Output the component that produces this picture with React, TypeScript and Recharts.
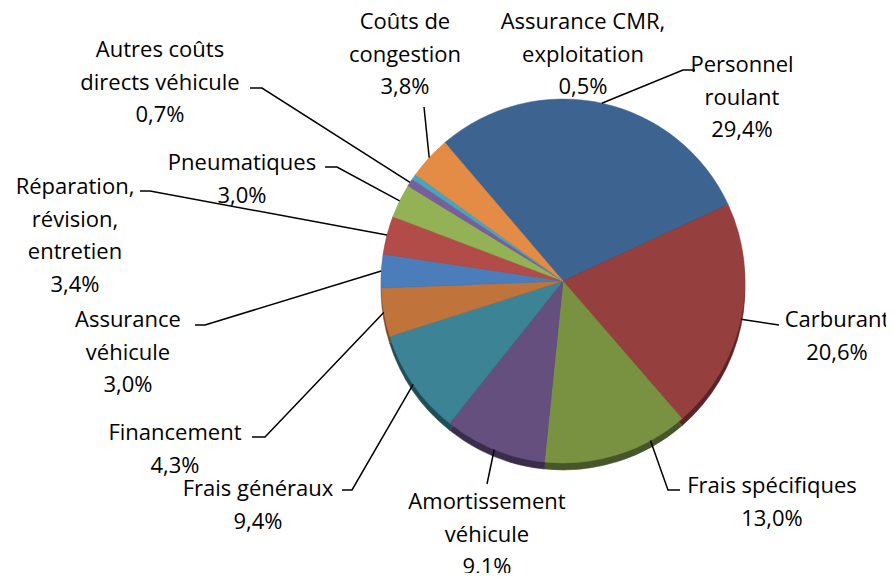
import { PieChart, Pie, Cell } from "recharts";

const categories = [
  "Personnel roulant",
  "Carburant",
  "Frais spécifiques",
  "Amortissement véhicule",
  "Frais généraux",
  "Financement",
  "Assurance véhicule",
  "Réparation, révision, entretien",
  "Pneumatiques",
  "Autres coûts directs véhicule",
  "Assurance CMR, exploitation",
  "Coûts de congestion",
];

const shares = [29.4, 20.6, 13.0, 9.1, 9.4, 4.3, 3.0, 3.4, 3.0, 0.7, 0.5, 3.8];

const percentLabels = [
  "29,4%", "20,6%", "13,0%", "9,1%", "9,4%", "4,3%",
  "3,0%", "3,4%", "3,0%", "0,7%", "0,5%", "3,8%",
];

// how each category label is broken into lines
const labelLines = [
  ["Personnel", "roulant"],
  ["Carburant"],
  ["Frais spécifiques"],
  ["Amortissement", "véhicule"],
  ["Frais généraux"],
  ["Financement"],
  ["Assurance", "véhicule"],
  ["Réparation,", "révision,", "entretien"],
  ["Pneumatiques"],
  ["Autres coûts", "directs véhicule"],
  ["Assurance CMR,", "exploitation"],
  ["Coûts de", "congestion"],
];

const data = categories.map((name, i) => ({ name, value: shares[i] }));

const topColors = [
  "#3d6491", "#953f3e", "#789242", "#654f7f", "#3b8395", "#c0733a",
  "#4a7dba", "#b24c49", "#93b255", "#7a5e9c", "#47a5be", "#e48b46",
];
const sideColors = [
  "#233a56", "#5a2424", "#46562a", "#3a2d4a", "#214d57", "#774623",
  "#2c4a70", "#6b2d2b", "#5a6d33", "#48375d", "#2a6271", "#8c5329",
];

// manual label placement (x centre, first line y, leader elbow / end, attach point along slice)
const labelLayout = [
  { x: 742, y: 63, at: 0.5, path: [[683, 70], [695, 70]] },
  { x: 837, y: 318, at: 0.5, path: [[779, 325]] },
  { x: 772, y: 484, at: 0.26, path: [[668, 490], [680, 490]] },
  { x: 487, y: 500, at: 0.5, path: [[487, 484]] },
  { x: 258, y: 487, at: 0.5, path: [[352, 490], [342, 490]] },
  { x: 175, y: 431, at: 0.5, path: [[265, 437], [252, 437]] },
  { x: 128, y: 318, at: 0.5, path: [[205, 325], [195, 325]] },
  { x: 75, y: 185, at: 0.5, path: [[150, 191], [140, 191]] },
  { x: 242, y: 161, at: 0.5, path: [[337, 167], [325, 167]] },
  { x: 160, y: 48, at: 0.5, path: [[262, 88], [250, 88]] },
  { x: 583, y: 20, at: 0.5, path: [] },
  { x: 405, y: 20, at: 0.5, path: [[424, 107]] },
];

const CX = 558;
const CY = 276;
const R = 182;
const START = 130.5;
const RAD = Math.PI / 180;
const LINE_H = 32.5;

const renderLabel = (props: any) => {
  const { cx, cy, startAngle, endAngle, outerRadius, index } = props;
  const lay = labelLayout[index];
  const ang = startAngle + (endAngle - startAngle) * lay.at;
  const ax = cx + outerRadius * Math.cos(-ang * RAD);
  const ay = cy + outerRadius * Math.sin(-ang * RAD);
  const lines = [...labelLines[index], percentLabels[index]];
  let d = "";
  if (lay.path.length) {
    d = `M${ax},${ay}` + lay.path.map((p) => ` L${p[0]},${p[1]}`).join("");
  }
  return (
    <g>
      {d && <path d={d} stroke="#000" strokeWidth={1.5} fill="none" />}
      <text
        x={lay.x}
        y={lay.y}
        textAnchor="middle"
        dominantBaseline="central"
        fontSize={22}
        fill="#000"
        fontFamily="'Open Sans', sans-serif"
      >
        {lines.map((t, i) => (
          <tspan key={i} x={lay.x} y={lay.y + i * LINE_H}>
            {t}
          </tspan>
        ))}
      </text>
    </g>
  );
};

export default function App() {
  return (
    <PieChart width={894} height={581} style={{ margin: -8 }}>
      {/* side of the tilted pie */}
      <Pie
        data={data}
        dataKey="value"
        cx={CX}
        cy={CY + 7}
        outerRadius={R}
        startAngle={START}
        endAngle={START - 360}
        isAnimationActive={false}
        label={false}
        labelLine={false}
      >
        {data.map((_, i) => (
          <Cell key={i} fill={sideColors[i]} stroke={sideColors[i]} strokeWidth={0.5} />
        ))}
      </Pie>
      <Pie
        data={data}
        dataKey="value"
        cx={CX}
        cy={CY}
        outerRadius={R}
        startAngle={START}
        endAngle={START - 360}
        isAnimationActive={false}
        label={renderLabel}
        labelLine={false}
      >
        {data.map((_, i) => (
          <Cell key={i} fill={topColors[i]} stroke={topColors[i]} strokeWidth={0.5} />
        ))}
      </Pie>
    </PieChart>
  );
}
